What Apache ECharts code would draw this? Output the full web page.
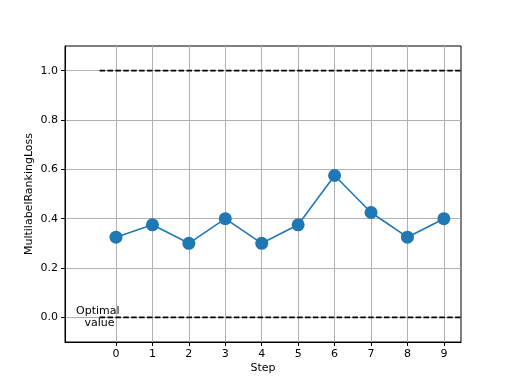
<!DOCTYPE html>
<html>
<head>
<meta charset="utf-8">
<script src="https://cdn.jsdelivr.net/npm/echarts@6/dist/echarts.min.js"></script>
<style>html,body{margin:0;padding:0;background:#fff}#c{width:512px;height:384px}</style>
</head>
<body>
<div id="c"></div>
<script>
var steps = [0, 1, 2, 3, 4, 5, 6, 7, 8, 9];
var lossValues = [0.325, 0.375, 0.3, 0.4, 0.3, 0.375, 0.575, 0.425, 0.325, 0.4];
var yTicks = [0, 0.2, 0.4, 0.6, 0.8, 1.0];
var worstValue = 1.0;
var optimalValue = 0.0;
var refLineStart = -0.45;
var refLineEnd = 9.6;
var optimalLabel = 'Optimal\n value';
var optimalLabelX = -0.5;

var font = 'DejaVu Sans';
var chart = echarts.init(document.getElementById('c'));
chart.setOption({
  animation: false,
  backgroundColor: '#fff',
  grid: {left: 65, right: 51, top: 46, bottom: 42, show: true, borderColor: '#000', borderWidth: 1, backgroundColor: 'transparent'},
  xAxis: {
    type: 'value', min: -1.4, max: 9.47,
    name: 'Step', nameLocation: 'middle', nameGap: 21, nameMoveOverlap: false,
    nameTextStyle: {fontFamily: font, fontSize: 11, color: '#000'},
    axisLine: {show: true, onZero: false, lineStyle: {color: '#000', width: 1}},
    axisTick: {show: true, customValues: steps, length: 4, inside: false, lineStyle: {color: '#000'}},
    axisLabel: {customValues: steps, fontFamily: font, fontSize: 11, color: '#000', margin: 7},
    splitLine: {show: true, lineStyle: {color: '#b0b0b0', width: 1}}
  },
  yAxis: {
    type: 'value', min: -0.1, max: 1.1,
    name: 'MultilabelRankingLoss', nameLocation: 'middle', nameGap: 30, nameMoveOverlap: false,
    nameTextStyle: {fontFamily: font, fontSize: 11, color: '#000'},
    axisLine: {show: true, onZero: false, lineStyle: {color: '#000', width: 1}},
    axisTick: {show: true, customValues: yTicks, length: 4, lineStyle: {color: '#000'}},
    axisLabel: {customValues: yTicks, fontFamily: font, fontSize: 11, color: '#000', margin: 7,
      formatter: function (v) { return v.toFixed(1); }},
    splitLine: {show: true, lineStyle: {color: '#b0b0b0', width: 1}}
  },
  series: [
    {
      type: 'line', data: [[refLineStart, worstValue], [refLineEnd, worstValue]],
      symbol: 'none', clip: true, silent: true,
      lineStyle: {color: '#000', width: 1.6, type: [5.5, 2.4]}, z: 3
    },
    {
      type: 'line', data: [[refLineStart, optimalValue], [refLineEnd, optimalValue]],
      symbol: 'none', clip: true, silent: true,
      lineStyle: {color: '#000', width: 1.6, type: [5.5, 2.4]}, z: 3
    },
    {
      type: 'line', data: steps.map(function (s, i) { return [s, lossValues[i]]; }),
      symbol: 'circle', symbolSize: 13,
      itemStyle: {color: '#1f77b4'},
      lineStyle: {color: '#1f77b4', width: 1.6}, z: 4
    },
    {
      type: 'scatter', data: [[optimalLabelX, optimalValue]], symbolSize: 0, silent: true,
      itemStyle: {opacity: 1, color: '#000'},
      label: {show: true, position: 'inside', formatter: optimalLabel, fontFamily: font,
        fontSize: 11, color: '#000', opacity: 1, align: 'center', verticalAlign: 'middle', lineHeight: 12}, z: 5
    }
  ]
});
</script>
</body>
</html>
